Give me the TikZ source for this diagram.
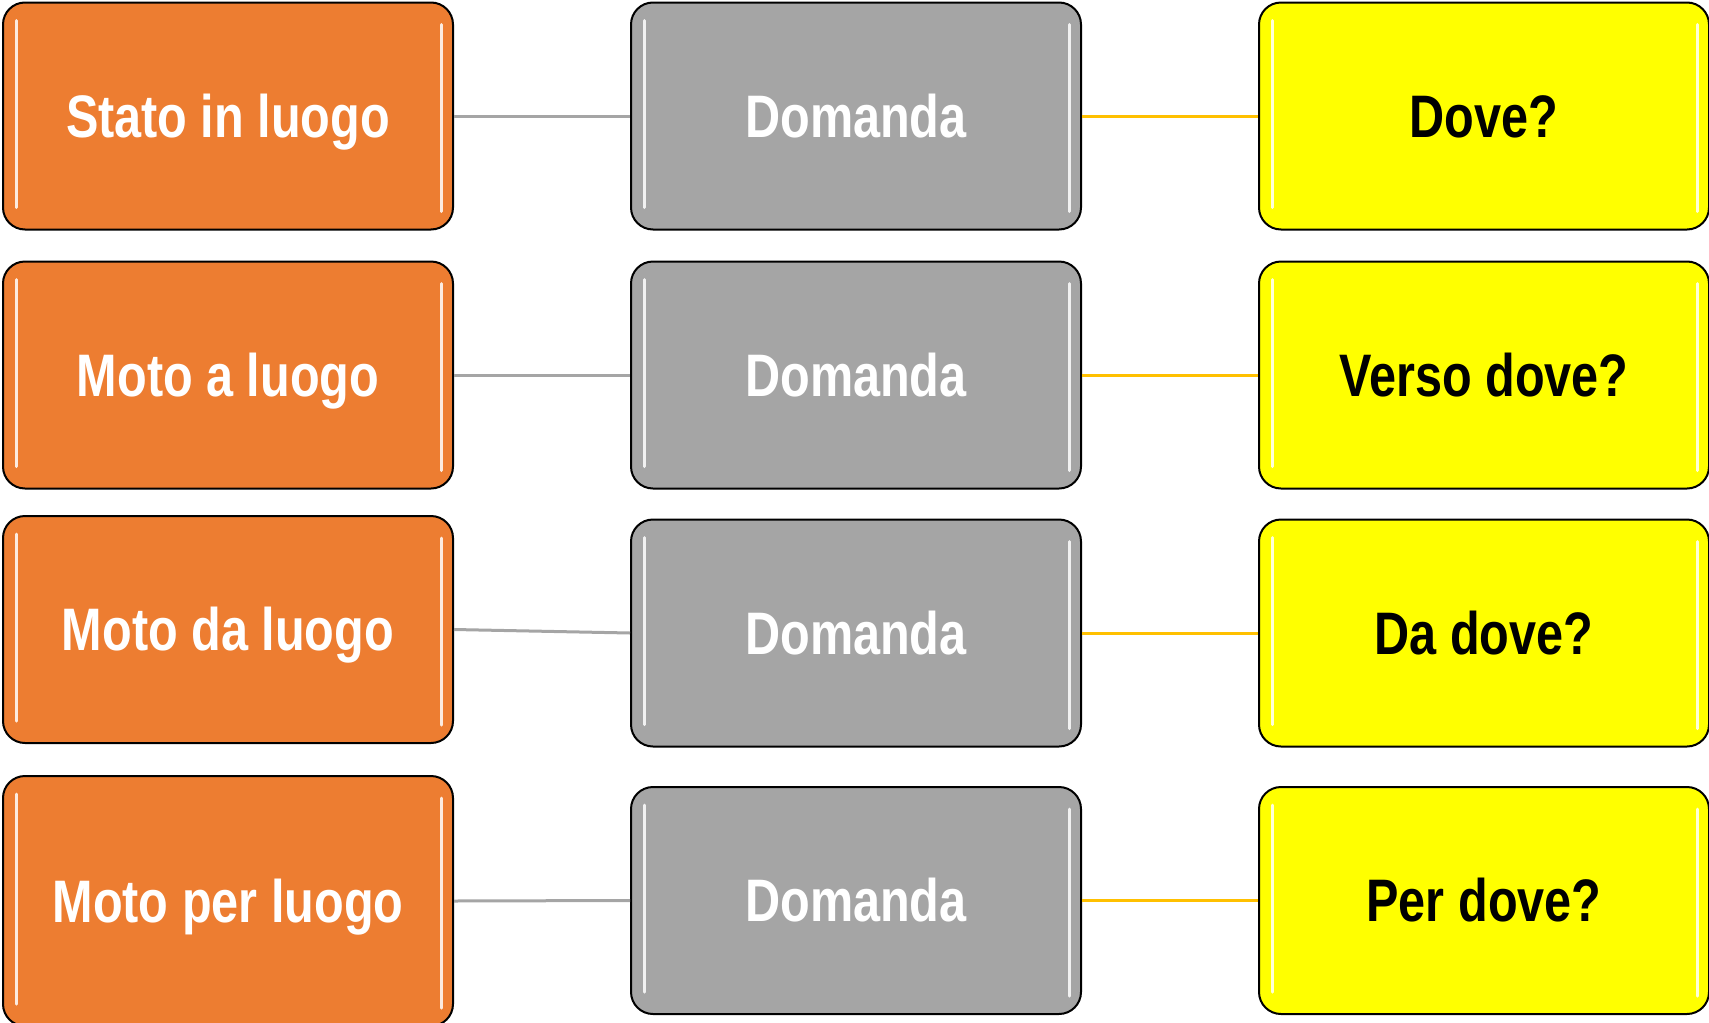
\documentclass[tikz,border=0pt]{standalone}
\usepackage{fontspec}
\newfontfamily\boxfont{Liberation Sans}[FakeStretch=0.81]
\usepackage{tikz}

\definecolor{luogoorange}{HTML}{ED7D31}
\definecolor{domandagrey}{HTML}{A5A5A5}
\definecolor{doveyellow}{HTML}{FFFF00}
\definecolor{linkgold}{HTML}{FFC000}

\begin{document}
\begin{tikzpicture}
            [x=0.5pt, y=-0.5pt,
             box/.style={draw=black, line width=1pt, rounded corners=11pt,
                         minimum width=225pt, minimum height=113.5pt,
                         text height=21pt, text depth=0pt,
                         font=\boxfont\bfseries\fontsize{30}{36}\selectfont,
                         path picture={
                           \draw[white, line width=1.5pt, opacity=.85, line cap=round]
                             ([xshift=6.5pt,yshift=-9pt]path picture bounding box.north west)
                             -- ([xshift=6.5pt,yshift=11pt]path picture bounding box.south west)
                             ([xshift=-6pt,yshift=-11pt]path picture bounding box.north east)
                             -- ([xshift=-6pt,yshift=9pt]path picture bounding box.south east);}},
             luogobox/.style={box, fill=luogoorange, text=white},
             domandabox/.style={box, fill=domandagrey, text=white},
             dovebox/.style={box, fill=doveyellow, text=black},
             greylink/.style={draw=domandagrey, line width=1.5pt},
             goldlink/.style={draw=linkgold, line width=1.5pt}]
            \useasboundingbox (0,0) rectangle (1709,1023);

            % Left column: the complements
            \node[luogobox] (stato) at (228, 116) {Stato in luogo};
            \node[luogobox] (motoa) at (228, 375) {Moto a luogo};
            \node[luogobox] (motoda) at (228, 629.5) {Moto da luogo};
            \node[luogobox, minimum height=125pt] (motoper) at (228, 901) {Moto per luogo};

            % Middle column
            \node[domandabox] (dom1) at (856, 116) {Domanda};
            \node[domandabox] (dom2) at (856, 375) {Domanda};
            \node[domandabox] (dom3) at (856, 633) {Domanda};
            \node[domandabox] (dom4) at (856, 900.5) {Domanda};

            % Right column: the questions
            \node[dovebox] (dove1) at (1484, 116) {Dove?};
            \node[dovebox] (dove2) at (1484, 375) {Verso dove?};
            \node[dovebox] (dove3) at (1484, 633) {Da dove?};
            \node[dovebox] (dove4) at (1484, 900.5) {Per dove?};

            % Connectors
            \draw[greylink] (stato.east) -- (dom1.west);
            \draw[greylink] (motoa.east) -- (dom2.west);
            \draw[greylink] (motoda.east) -- (dom3.west);
            \draw[greylink] (motoper.east) -- (dom4.west);
            \draw[goldlink] (dom1.east) -- (dove1.west);
            \draw[goldlink] (dom2.east) -- (dove2.west);
            \draw[goldlink] (dom3.east) -- (dove3.west);
            \draw[goldlink] (dom4.east) -- (dove4.west);
        \end{tikzpicture}
\end{document}
